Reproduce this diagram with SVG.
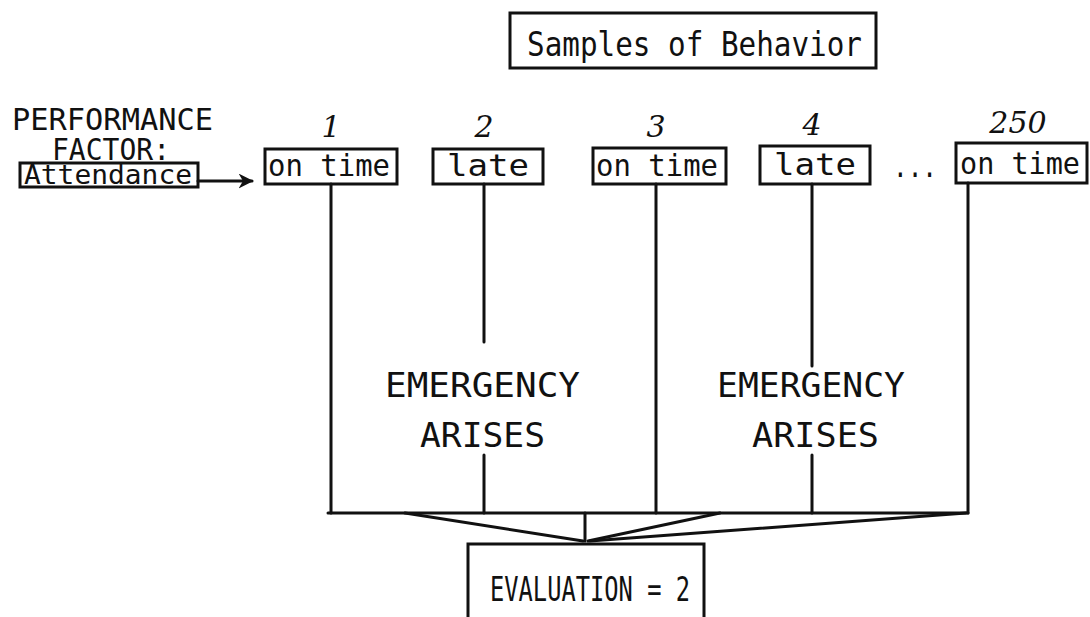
<svg xmlns="http://www.w3.org/2000/svg" width="1090" height="617" viewBox="0 0 1090 617">
<defs>
<style>
.box{fill:none;stroke:#111;stroke-width:3}
.ln{stroke:#111;stroke-width:3;fill:none;stroke-linecap:round}
.t{font-family:"DejaVu Sans Mono","Liberation Mono",monospace;fill:#111;font-size:33px}
.m{font-size:31px}
.s{font-size:26px}
.h{font-family:"DejaVu Serif","Liberation Serif",serif;font-style:italic;fill:#111;font-size:30px;text-anchor:middle}
</style>
<marker id="arr" viewBox="0 0 10 10" refX="9" refY="5" markerWidth="5" markerHeight="5" orient="auto">
<path d="M0,0 L10,5 L0,10 L3,5 z" fill="#111"/>
</marker>
</defs>
<rect width="1090" height="617" fill="#fff"/>

<g id="title">
<rect class="box" x="510" y="13" width="366" height="55"/>
<text class="t" x="527" y="56" textLength="335" lengthAdjust="spacingAndGlyphs">Samples of Behavior</text>
</g>

<g id="factor">
<text class="t" style="font-size:31px" x="12" y="130" textLength="201" lengthAdjust="spacingAndGlyphs">PERFORMANCE</text>
<text class="t" style="font-size:31px" x="52" y="160" textLength="118" lengthAdjust="spacingAndGlyphs">FACTOR:</text>
<rect class="box" x="20" y="163" width="178" height="24"/>
<text class="t s" x="24" y="184" textLength="168" lengthAdjust="spacingAndGlyphs">Attendance</text>
</g>

<g id="s1">
<text class="h" x="331" y="137">1</text>
<rect class="box" x="265" y="149" width="132" height="35"/>
<text class="t m" x="268" y="176" textLength="122" lengthAdjust="spacingAndGlyphs">on time</text>
</g>
<g id="s2">
<text class="h" x="484" y="137">2</text>
<rect class="box" x="433" y="149" width="110" height="35"/>
<text class="t m" x="447" y="176" textLength="82" lengthAdjust="spacingAndGlyphs">late</text>
</g>
<g id="s3">
<text class="h" x="656" y="137">3</text>
<rect class="box" x="593" y="148" width="133" height="36"/>
<text class="t m" x="596" y="176" textLength="122" lengthAdjust="spacingAndGlyphs">on time</text>
</g>
<g id="s4">
<text class="h" x="812" y="135">4</text>
<rect class="box" x="760" y="146" width="110" height="38"/>
<text class="t m" x="774" y="175" textLength="82" lengthAdjust="spacingAndGlyphs">late</text>
</g>
<text class="t m" x="893" y="177" textLength="44" lengthAdjust="spacingAndGlyphs">...</text>
<g id="s250">
<text class="h" x="1018" y="133">250</text>
<rect class="box" x="956" y="143" width="131" height="40"/>
<text class="t m" x="960" y="174" textLength="120" lengthAdjust="spacingAndGlyphs">on time</text>
</g>

<g id="em1">
<text class="t" x="385" y="397" textLength="195" lengthAdjust="spacingAndGlyphs">EMERGENCY</text>
<text class="t" x="420" y="447" textLength="125" lengthAdjust="spacingAndGlyphs">ARISES</text>
</g>
<g id="em2">
<text class="t" x="717" y="397" textLength="188" lengthAdjust="spacingAndGlyphs">EMERGENCY</text>
<text class="t" x="752" y="447" textLength="127" lengthAdjust="spacingAndGlyphs">ARISES</text>
</g>

<g id="evaluation">
<rect class="box" x="468" y="544" width="236" height="80"/>
<text class="t" x="490" y="601" textLength="200" lengthAdjust="spacingAndGlyphs">EVALUATION = 2</text>
</g>

<g id="connectors">
<line class="ln" x1="198" y1="181" x2="252" y2="181" marker-end="url(#arr)"/>
<line class="ln" x1="331" y1="184" x2="331" y2="513"/>
<line class="ln" x1="484" y1="184" x2="484" y2="342"/>
<line class="ln" x1="484" y1="455" x2="484" y2="513"/>
<line class="ln" x1="656" y1="184" x2="656" y2="513"/>
<line class="ln" x1="812" y1="184" x2="812" y2="366"/>
<line class="ln" x1="812" y1="455" x2="812" y2="513"/>
<line class="ln" x1="968" y1="183" x2="968" y2="513"/>
<line class="ln" x1="328" y1="513" x2="968" y2="513"/>
<line class="ln" x1="405" y1="513" x2="583" y2="541"/>
<line class="ln" x1="585" y1="513" x2="585" y2="541"/>
<line class="ln" x1="720" y1="513" x2="588" y2="541"/>
<line class="ln" x1="966" y1="513" x2="590" y2="541"/>
</g>
</svg>
